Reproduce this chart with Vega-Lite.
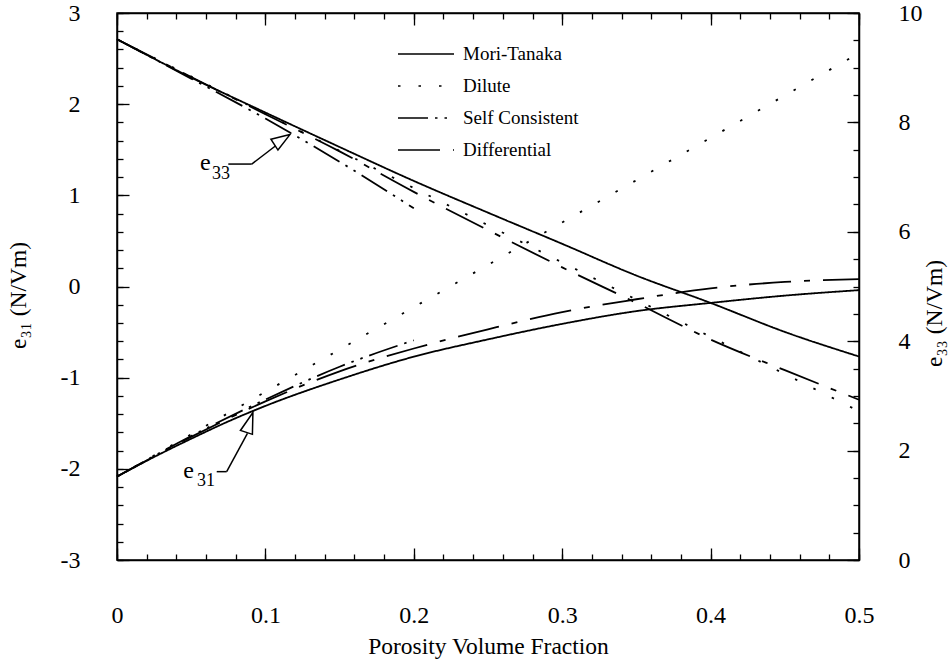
{
  "$schema": "https://vega.github.io/schema/vega-lite/v6.json",
  "width": 742,
  "height": 547,
  "autosize": {"type": "none"},
  "padding": {"left": 117, "top": 13, "right": 89, "bottom": 104},
  "background": "white",
  "config": {
    "view": {"stroke": "black", "strokeWidth": 1.5},
    "font": "Liberation Serif",
    "axis": {
      "labelFont": "Liberation Serif",
      "titleFont": "Liberation Serif",
      "labelFontSize": 24,
      "titleFontSize": 23.5,
      "labelColor": "black",
      "titleColor": "black",
      "titleFontWeight": "normal",
      "tickColor": "black",
      "domainColor": "black",
      "domainWidth": 1.5,
      "tickWidth": 1.3,
      "grid": false,
      "labelFlush": false,
      "labelOverlap": false
    }
  },
  "datasets": {
    "curves": [
      {"curve": "e31", "method": "Mori-Tanaka", "x": 0, "v": -2.085},
      {"curve": "e31", "method": "Mori-Tanaka", "x": 0.025, "v": -1.87},
      {"curve": "e31", "method": "Mori-Tanaka", "x": 0.05, "v": -1.67},
      {"curve": "e31", "method": "Mori-Tanaka", "x": 0.075, "v": -1.48},
      {"curve": "e31", "method": "Mori-Tanaka", "x": 0.1, "v": -1.31},
      {"curve": "e31", "method": "Mori-Tanaka", "x": 0.15, "v": -1.02},
      {"curve": "e31", "method": "Mori-Tanaka", "x": 0.2, "v": -0.77},
      {"curve": "e31", "method": "Mori-Tanaka", "x": 0.25, "v": -0.58},
      {"curve": "e31", "method": "Mori-Tanaka", "x": 0.3, "v": -0.41},
      {"curve": "e31", "method": "Mori-Tanaka", "x": 0.35, "v": -0.27},
      {"curve": "e31", "method": "Mori-Tanaka", "x": 0.4, "v": -0.18},
      {"curve": "e31", "method": "Mori-Tanaka", "x": 0.45, "v": -0.1},
      {"curve": "e31", "method": "Mori-Tanaka", "x": 0.5, "v": -0.04},
      {"curve": "e31", "method": "Dilute", "x": 0, "v": -2.085},
      {"curve": "e31", "method": "Dilute", "x": 0.5, "v": 2.56},
      {"curve": "e31", "method": "Self Consistent", "x": 0, "v": -2.085},
      {"curve": "e31", "method": "Self Consistent", "x": 0.05, "v": -1.64},
      {"curve": "e31", "method": "Self Consistent", "x": 0.1, "v": -1.24},
      {"curve": "e31", "method": "Self Consistent", "x": 0.15, "v": -0.88},
      {"curve": "e31", "method": "Self Consistent", "x": 0.2, "v": -0.59},
      {"curve": "e31", "method": "Differential", "x": 0, "v": -2.085},
      {"curve": "e31", "method": "Differential", "x": 0.05, "v": -1.65},
      {"curve": "e31", "method": "Differential", "x": 0.1, "v": -1.26},
      {"curve": "e31", "method": "Differential", "x": 0.15, "v": -0.93},
      {"curve": "e31", "method": "Differential", "x": 0.2, "v": -0.68},
      {"curve": "e31", "method": "Differential", "x": 0.25, "v": -0.47},
      {"curve": "e31", "method": "Differential", "x": 0.3, "v": -0.28},
      {"curve": "e31", "method": "Differential", "x": 0.35, "v": -0.14},
      {"curve": "e31", "method": "Differential", "x": 0.4, "v": -0.02},
      {"curve": "e31", "method": "Differential", "x": 0.45, "v": 0.05},
      {"curve": "e31", "method": "Differential", "x": 0.5, "v": 0.08},
      {"curve": "e33", "method": "Mori-Tanaka", "x": 0, "v": 9.52},
      {"curve": "e33", "method": "Mori-Tanaka", "x": 0.05, "v": 8.82},
      {"curve": "e33", "method": "Mori-Tanaka", "x": 0.1, "v": 8.18},
      {"curve": "e33", "method": "Mori-Tanaka", "x": 0.15, "v": 7.55},
      {"curve": "e33", "method": "Mori-Tanaka", "x": 0.2, "v": 6.93},
      {"curve": "e33", "method": "Mori-Tanaka", "x": 0.25, "v": 6.35},
      {"curve": "e33", "method": "Mori-Tanaka", "x": 0.3, "v": 5.78},
      {"curve": "e33", "method": "Mori-Tanaka", "x": 0.35, "v": 5.2},
      {"curve": "e33", "method": "Mori-Tanaka", "x": 0.4, "v": 4.7},
      {"curve": "e33", "method": "Mori-Tanaka", "x": 0.45, "v": 4.17},
      {"curve": "e33", "method": "Mori-Tanaka", "x": 0.5, "v": 3.72},
      {"curve": "e33", "method": "Dilute", "x": 0, "v": 9.52},
      {"curve": "e33", "method": "Dilute", "x": 0.5, "v": 2.72},
      {"curve": "e33", "method": "Self Consistent", "x": 0, "v": 9.52},
      {"curve": "e33", "method": "Self Consistent", "x": 0.05, "v": 8.8},
      {"curve": "e33", "method": "Self Consistent", "x": 0.1, "v": 8.07},
      {"curve": "e33", "method": "Self Consistent", "x": 0.15, "v": 7.28},
      {"curve": "e33", "method": "Self Consistent", "x": 0.2, "v": 6.43},
      {"curve": "e33", "method": "Differential", "x": 0, "v": 9.52},
      {"curve": "e33", "method": "Differential", "x": 0.05, "v": 8.83},
      {"curve": "e33", "method": "Differential", "x": 0.1, "v": 8.15},
      {"curve": "e33", "method": "Differential", "x": 0.15, "v": 7.47},
      {"curve": "e33", "method": "Differential", "x": 0.2, "v": 6.73},
      {"curve": "e33", "method": "Differential", "x": 0.25, "v": 6.03},
      {"curve": "e33", "method": "Differential", "x": 0.3, "v": 5.35},
      {"curve": "e33", "method": "Differential", "x": 0.35, "v": 4.7},
      {"curve": "e33", "method": "Differential", "x": 0.4, "v": 4.03},
      {"curve": "e33", "method": "Differential", "x": 0.45, "v": 3.47},
      {"curve": "e33", "method": "Differential", "x": 0.5, "v": 2.93}
    ],
    "labels": [
      {"id": "e33", "part": "e", "t": "e", "x": 0.0559, "v": 1.277},
      {"id": "e33", "part": "sub", "t": "33", "x": 0.064, "v": 1.179},
      {"id": "e31", "part": "e", "t": "e", "x": 0.0447, "v": -2.103},
      {"id": "e31", "part": "sub", "t": "31", "x": 0.0539, "v": -2.187}
    ],
    "leaders": [
      {"id": "e33", "x": 0.075, "v": 1.343, "x2": 0.0908, "v2": 1.343},
      {"id": "e33", "x": 0.0908, "v": 1.343, "x2": 0.1076, "v2": 1.552},
      {"id": "e31", "x": 0.0672, "v": -2.031, "x2": 0.0739, "v2": -2.031},
      {"id": "e31", "x": 0.0739, "v": -2.031, "x2": 0.0879, "v2": -1.61}
    ],
    "heads": [
      {"id": "e33", "x": 0.1113, "v": 1.611},
      {"id": "e31", "x": 0.0894, "v": -1.491}
    ]
  },
  "layer": [
    {
      "layer": [
        {
          "data": {"name": "curves"},
          "transform": [{"filter": "datum.curve === 'e31' && (datum.method === 'Mori-Tanaka' || datum.method === 'Dilute')"}],
          "mark": {"type": "line", "interpolate": "monotone", "strokeWidth": 1.8, "color": "black"},
          "encoding": {
            "x": {
              "field": "x", "type": "quantitative",
              "scale": {"domain": [0, 0.5], "nice": false, "zero": false},
              "axis": {
                "orient": "bottom",
                "values": [0, 0.1, 0.2, 0.3, 0.4, 0.5],
                "tickSize": -12,
                "labelExpr": "'' + datum.value",
                "labelBaseline": "alphabetic",
                "labelPadding": 74,
                "labelOverlap": false,
                "title": "Porosity Volume Fraction",
                "titleBaseline": "alphabetic",
                "titleY": 93
              }
            },
            "y": {
              "field": "v", "type": "quantitative",
              "scale": {"domain": [-3, 3], "nice": false, "zero": false},
              "axis": {
                "orient": "left",
                "values": [-3, -2, -1, 0, 1, 2, 3],
                "tickSize": -12,
                "labelExpr": "'' + datum.value",
                "labelPadding": 49,
                "labelOverlap": false,
                "title": "e₃₁ (N/Vm)",
                "titleAngle": -90,
                "titleBaseline": "middle",
                "titleX": -99,
                "titleY": 282
              }
            },
            "strokeDash": {
              "field": "method", "type": "nominal",
              "scale": {
                "domain": ["Mori-Tanaka", "Dilute", "Self Consistent", "Differential"],
                "range": [[1, 0], [2.5, 18], [30, 7, 2.5, 7, 2.5, 7], [42, 13, 6, 13]]
              },
              "legend": {
                "orient": "none",
                "legendX": 298,
                "legendY": 30,
                "title": null,
                "padding": 0,
                "symbolType": "M-2.8,0L2.8,0",
                "symbolSize": 400,
                "symbolStrokeWidth": 1.6,
                "symbolStrokeColor": "black",
                "labelFont": "Liberation Serif",
                "labelFontSize": 19,
                "labelColor": "black",
                "labelOffset": 26,
                "labelLimit": 300,
                "rowPadding": 11
              }
            }
          }
        },
        {
          "data": {"name": "curves"},
          "transform": [{"filter": "datum.curve === 'e31' && (datum.method === 'Self Consistent' || datum.method === 'Differential')"}],
          "mark": {"type": "line", "interpolate": "monotone", "strokeWidth": 1.8, "color": "black"},
          "encoding": {
            "x": {
              "field": "x", "type": "quantitative",
              "axis": {
                "orient": "bottom",
                "values": [0, 0.02, 0.04, 0.06, 0.08, 0.1, 0.12, 0.14, 0.16, 0.18, 0.2, 0.22, 0.24, 0.26, 0.28, 0.3, 0.32, 0.34, 0.36, 0.38, 0.4, 0.42, 0.44, 0.46, 0.48, 0.5],
                "tickSize": -6,
                "labels": false,
                "domain": false,
                "title": null
              }
            },
            "y": {
              "field": "v", "type": "quantitative",
              "axis": {
                "orient": "left",
                "values": [-3, -2.8, -2.6, -2.4, -2.2, -2, -1.8, -1.6, -1.4, -1.2, -1, -0.8, -0.6, -0.4, -0.2, 0, 0.2, 0.4, 0.6, 0.8, 1, 1.2, 1.4, 1.6, 1.8, 2, 2.2, 2.4, 2.6, 2.8, 3],
                "tickSize": -6,
                "labels": false,
                "domain": false,
                "title": null
              }
            },
            "strokeDash": {"field": "method", "type": "nominal"}
          }
        },
        {
          "data": {"name": "leaders"},
          "mark": {"type": "rule", "color": "black", "strokeWidth": 1.5},
          "encoding": {
            "x": {"field": "x", "type": "quantitative", "axis": null},
            "y": {"field": "v", "type": "quantitative", "axis": null},
            "x2": {"field": "x2"},
            "y2": {"field": "v2"}
          }
        },
        {
          "data": {"name": "heads"},
          "transform": [{"filter": "datum.id === 'e33'"}],
          "mark": {"type": "point", "shape": "M0,-1L0.7,1L-0.7,1Z", "size": 340, "angle": 57, "filled": true, "fill": "white", "stroke": "black", "strokeWidth": 1.5, "opacity": 1},
          "encoding": {
            "x": {"field": "x", "type": "quantitative", "axis": null},
            "y": {"field": "v", "type": "quantitative", "axis": null}
          }
        },
        {
          "data": {"name": "heads"},
          "transform": [{"filter": "datum.id === 'e31'"}],
          "mark": {"type": "point", "shape": "M0,-1L0.6,1L-0.6,1Z", "size": 440, "angle": 18, "filled": true, "fill": "white", "stroke": "black", "strokeWidth": 1.5, "opacity": 1},
          "encoding": {
            "x": {"field": "x", "type": "quantitative", "axis": null},
            "y": {"field": "v", "type": "quantitative", "axis": null}
          }
        },
        {
          "data": {"name": "labels"},
          "transform": [{"filter": "datum.part === 'e'"}],
          "mark": {"type": "text", "font": "Liberation Serif", "fontSize": 24, "align": "left", "baseline": "alphabetic", "color": "black"},
          "encoding": {
            "x": {"field": "x", "type": "quantitative", "axis": null},
            "y": {"field": "v", "type": "quantitative", "axis": null},
            "text": {"field": "t"}
          }
        },
        {
          "data": {"name": "labels"},
          "transform": [{"filter": "datum.part === 'sub'"}],
          "mark": {"type": "text", "font": "Liberation Serif", "fontSize": 18, "align": "left", "baseline": "alphabetic", "color": "black"},
          "encoding": {
            "x": {"field": "x", "type": "quantitative", "axis": null},
            "y": {"field": "v", "type": "quantitative", "axis": null},
            "text": {"field": "t"}
          }
        }
      ],
      "resolve": {"axis": {"x": "independent", "y": "independent"}}
    },
    {
      "layer": [
        {
          "data": {"name": "curves"},
          "transform": [{"filter": "datum.curve === 'e33' && (datum.method === 'Mori-Tanaka' || datum.method === 'Dilute')"}],
          "mark": {"type": "line", "interpolate": "monotone", "strokeWidth": 1.8, "color": "black"},
          "encoding": {
            "x": {
              "field": "x", "type": "quantitative",
              "scale": {"domain": [0, 0.5], "nice": false, "zero": false},
              "axis": {
                "orient": "top",
                "values": [0, 0.1, 0.2, 0.3, 0.4, 0.5],
                "tickSize": -12,
                "labels": false,
                "title": null
              }
            },
            "y": {
              "field": "v", "type": "quantitative",
              "scale": {"domain": [0, 10], "nice": false, "zero": false},
              "axis": {
                "orient": "right",
                "values": [0, 2, 4, 6, 8, 10],
                "tickSize": -12,
                "labelExpr": "'' + datum.value",
                "labelPadding": 51,
                "labelOverlap": false,
                "title": "e₃₃ (N/Vm)",
                "titleAngle": -90,
                "titleBaseline": "middle",
                "titleX": 75,
                "titleY": 300
              }
            },
            "strokeDash": {"field": "method", "type": "nominal"}
          }
        },
        {
          "data": {"name": "curves"},
          "transform": [{"filter": "datum.curve === 'e33' && (datum.method === 'Self Consistent' || datum.method === 'Differential')"}],
          "mark": {"type": "line", "interpolate": "monotone", "strokeWidth": 1.8, "color": "black"},
          "encoding": {
            "x": {
              "field": "x", "type": "quantitative",
              "axis": {
                "orient": "top",
                "values": [0, 0.02, 0.04, 0.06, 0.08, 0.1, 0.12, 0.14, 0.16, 0.18, 0.2, 0.22, 0.24, 0.26, 0.28, 0.3, 0.32, 0.34, 0.36, 0.38, 0.4, 0.42, 0.44, 0.46, 0.48, 0.5],
                "tickSize": -6,
                "labels": false,
                "domain": false,
                "title": null
              }
            },
            "y": {
              "field": "v", "type": "quantitative",
              "axis": {
                "orient": "right",
                "values": [0, 0.5, 1, 1.5, 2, 2.5, 3, 3.5, 4, 4.5, 5, 5.5, 6, 6.5, 7, 7.5, 8, 8.5, 9, 9.5, 10],
                "tickSize": -6,
                "labels": false,
                "domain": false,
                "title": null
              }
            },
            "strokeDash": {"field": "method", "type": "nominal"}
          }
        }
      ],
      "resolve": {"axis": {"x": "independent", "y": "independent"}}
    }
  ],
  "resolve": {"scale": {"y": "independent"}, "axis": {"x": "independent", "y": "independent"}}
}
